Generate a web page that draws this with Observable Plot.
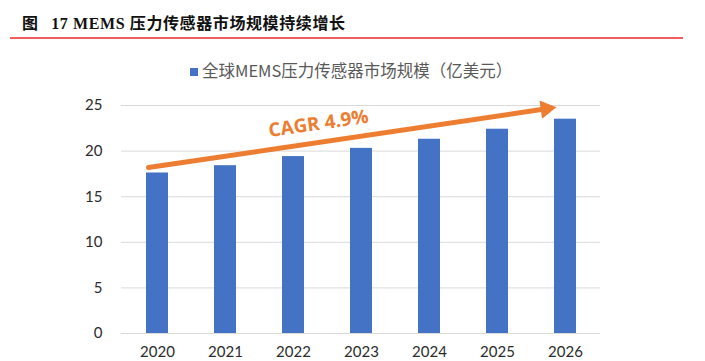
<!DOCTYPE html>
<html>
<head>
<meta charset="utf-8">
<script src="https://cdn.jsdelivr.net/npm/d3@7"></script>
<script src="https://cdn.jsdelivr.net/npm/@observablehq/plot@0.6"></script>
<style>
  body { margin: 0; background: #fff; width: 705px; height: 361px; position: relative; overflow: hidden; }
  #title { position: absolute; left: 22px; top: 14px; font-family: "Liberation Serif", "Noto Sans CJK SC", serif; font-weight: bold; font-size: 16px; line-height: 20px; color: #111; white-space: nowrap; letter-spacing: 0.6px; }
  #title .gap { display: inline-block; width: 8px; }
  #rule { position: absolute; left: 10px; top: 37px; width: 673px; height: 2px; background: #f25b60; }
  #legend { position: absolute; left: 190px; top: 59px; font-family: "Noto Sans CJK SC", sans-serif; font-size: 16.5px; line-height: 22px; color: #595959; white-space: nowrap; display: flex; align-items: center; }
  #legend .sw { width: 8px; height: 8px; background: #4472C4; margin-right: 4px; margin-top: 3px; }
  #chart { position: absolute; left: 0; top: 90px; }
</style>
</head>
<body>
<div id="title">图<span class="gap"></span> 17 MEMS 压力传感器市场规模持续增长</div>
<div id="rule"></div>
<div id="legend"><span class="sw"></span><span>全球MEMS压力传感器市场规模（亿美元）</span></div>
<div id="chart"></div>
<script>
const years = ["2020", "2021", "2022", "2023", "2024", "2025", "2026"];
const values = [17.6, 18.4, 19.4, 20.3, 21.3, 22.4, 23.5];
const yTicks = [0, 5, 10, 15, 20, 25];
const cagrLabel = "CAGR 4.9%";
const trendStart = { year: "2020", value: 18.2 };
const trendEnd = { year: "2026", value: 24.8 };
const labelAnchor = { year: "2022", value: 23.0 };

const data = years.map((year, i) => ({ year, value: values[i] }));
const orange = "#ED7D31";
const angle = 8.2; // slope of trend arrow on screen, degrees
const rad = angle * Math.PI / 180;
const headBack = 10.6; // centroid offset of triangle head from tip

const chart = Plot.plot({
  width: 705,
  height: 271,
  marginTop: 15,
  marginBottom: 28,
  marginLeft: 121,
  marginRight: 105,
  style: { fontFamily: "Lato, 'Open Sans', sans-serif", fontSize: "15px", color: "#2b2b2b", background: "transparent" },
  x: { domain: years, paddingInner: 0.68, paddingOuter: 0.34, label: null, tickSize: 0, tickPadding: 13 },
  y: { domain: [0, 25], ticks: yTicks, label: null, tickSize: 0, tickPadding: 19 },
  marks: [
    Plot.gridY(yTicks, { stroke: "#d9d9d9", strokeOpacity: 1, strokeWidth: 1 }),
    Plot.barY(data, { x: "year", y: "value", fill: "#4472C4" }),
    Plot.arrow([{ x1: trendStart.year, y1: trendStart.value, x2: trendEnd.year, y2: trendEnd.value }], {
      x1: "x1", y1: "y1", x2: "x2", y2: "y2", dx: -9,
      stroke: orange, strokeWidth: 5, headLength: 0, insetEnd: 12
    }),
    Plot.dot([trendEnd], {
      x: "year", y: "value", symbol: "triangle", r: 6.8,
      dx: -9 - headBack * Math.cos(rad), dy: headBack * Math.sin(rad),
      rotate: 90 - angle, fill: orange, stroke: "none"
    }),
    Plot.text([labelAnchor], {
      x: "year", y: "value", text: () => cagrLabel, dx: 25, rotate: -angle,
      fill: orange, fontWeight: "bold", fontSize: 19, fontFamily: "'Open Sans', sans-serif"
    })
  ]
});
document.getElementById("chart").appendChild(chart);
</script>
</body>
</html>
